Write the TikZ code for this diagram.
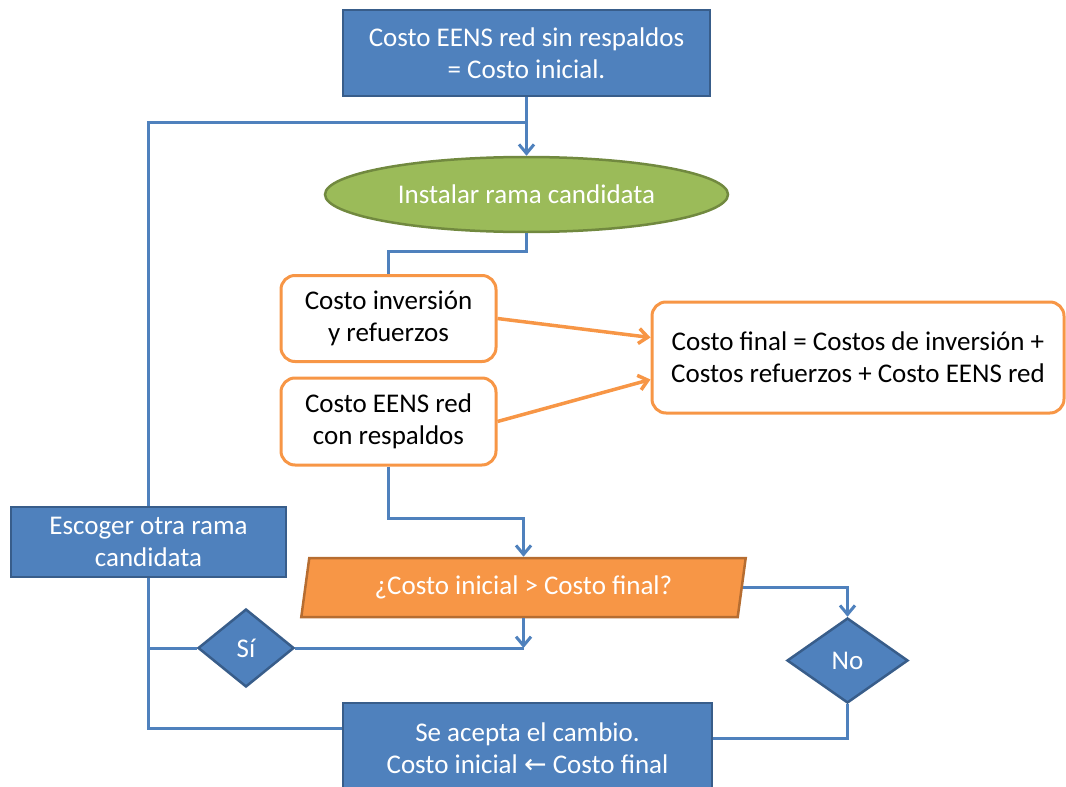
\documentclass[tikz,border=0pt]{standalone}
\usepackage{fontspec}
\setmainfont{Carlito}
\newfontfamily\arrowfont{DejaVu Sans}
\usetikzlibrary{shapes.geometric,arrows.meta,calc}
\definecolor{boxblue}{HTML}{4F81BD}
\definecolor{edgeblue}{HTML}{385D8A}
\definecolor{leafgreen}{HTML}{9BBB59}
\definecolor{edgegreen}{HTML}{71893F}
\definecolor{costorange}{HTML}{F79646}
\definecolor{edgeorange}{HTML}{B66D31}
\begin{document}
\begin{tikzpicture}[x=1pt, y=-1pt, >={Straight Barb[length=9pt, width=15pt]},
	font=\fontsize{27}{32}\selectfont,
	bluebox/.style={draw=edgeblue, fill=boxblue, line width = 2.5pt, text=white, align=center, inner sep=0pt},
	greenoval/.style={ellipse, draw=edgegreen, fill=leafgreen, line width = 2.5pt, text=white, inner sep=0pt},
	orangebox/.style={draw=costorange, fill=white, line width = 3pt, rounded corners=14pt, align=center, inner sep=0pt},
	question/.style={trapezium, trapezium left angle=76.6, trapezium right angle=103.4, trapezium stretches=true, draw=edgeorange, fill=costorange, line width = 2.5pt, text=white, inner sep=0pt},
	decision/.style={diamond, draw=edgeblue, fill=boxblue, line width = 2.5pt, text=white, inner sep=0pt},
	conn/.style={draw=boxblue, line width = 3pt},
	oarrow/.style={->, draw=costorange, line width = 3.5pt}]
		\useasboundingbox (0,0) rectangle (1066,787);
		\node[bluebox, minimum width=367pt, minimum height=86pt] (top) at (526.5,53) {Costo EENS red sin respaldos\\= Costo inicial.};
		\node[greenoval, minimum width=403pt, minimum height=75pt] (inst) at (526.5,194.5) {Instalar rama candidata};
		\node[orangebox, minimum width=215pt, minimum height=86pt] (inv) at (388.5,318.5) {Costo inversión\\y refuerzos};
		\node[orangebox, minimum width=215pt, minimum height=87pt] (eens) at (388.5,421.5) {Costo EENS red\\con respaldos};
		\node[orangebox, minimum width=412pt, minimum height=111pt] (final) at (858,357.5) {Costo final = Costos de inversión +\\Costos refuerzos + Costo EENS red};
		\node[bluebox, minimum width=275pt, minimum height=70pt] (esc) at (148.5,542) {Escoger otra rama\\candidata};
		\node[question, minimum width=445pt, minimum height=59pt] (cond) at (523.5,587.5) {¿Costo inicial > Costo final?};
		\node[decision, minimum width=96pt, minimum height=78pt] (si) at (246,648) {Sí};
		\node[decision, minimum width=121pt, minimum height=85pt] (no) at (847.5,660.5) {No};
		\node[bluebox, minimum width=369pt, minimum height=90pt] (bot) at (527.5,748) {Se acepta el cambio.\\Costo inicial {\arrowfont ←} Costo final};
		\coordinate (loop) at (top.south |- 0,122);
		\coordinate (sidown) at (cond.south |- si.east);
		\draw[conn, ->] (top) -- (inst);
		\draw[conn] (esc.north) |- (loop);
		\draw[conn] (inst.south) -- ++(0,18) -| (inv.north);
		\draw[oarrow] (inv.east) -- ($(final.west)+(0,-20)$);
		\draw[oarrow] (eens.east) -- ($(final.west)+(0,22)$);
		\draw[conn, ->] (eens.south) -- ++(0,52) -| (cond.north);
		\draw[conn, ->] (cond.east) -| (no.north);
		\draw[conn, ->] (cond.south) -- (sidown);
		\draw[conn] (sidown) -- (si.east);
		\draw[conn] (si.west) -- (si.west -| esc.south);
		\draw[conn] (no.south) |- ([yshift=10pt]bot.east);
		\draw[conn] (esc.south) |- ([yshift=20pt]bot.west);
\end{tikzpicture}
\end{document}
